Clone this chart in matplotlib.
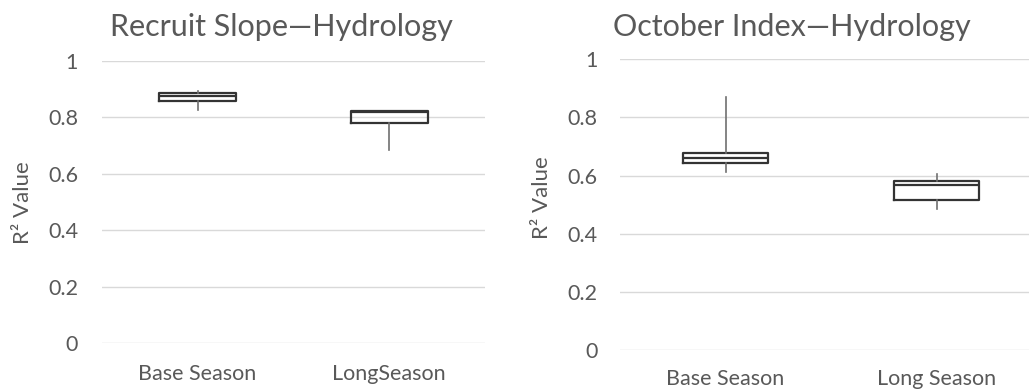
import matplotlib
matplotlib.use("Agg")
import matplotlib.pyplot as plt

plt.rcParams['font.family'] = ['Lato', 'DejaVu Sans']

# ===== data =====
titles = ["Recruit Slope\u2014Hydrology", "October Index\u2014Hydrology"]
cats_left = ["Base Season", "LongSeason"]
cats_right = ["Base Season", "Long Season"]

# left panel: Recruit Slope
rs_q1 = [0.859, 0.781]
rs_med = [0.877, 0.819]
rs_q3 = [0.886, 0.824]
rs_lo = [0.826, 0.685]
rs_hi = [0.895, 0.824]

# right panel: October Index
oi_q1 = [0.644, 0.516]
oi_med = [0.659, 0.568]
oi_q3 = [0.679, 0.581]
oi_lo = [0.611, 0.485]
oi_hi = [0.871, 0.604]

yticks = [0, 0.2, 0.4, 0.6, 0.8, 1.0]
ytick_labels = ["0", "0.2", "0.4", "0.6", "0.8", "1"]

GREY = "#595959"
GRID = "#d9d9d9"

W, H = 1029, 392
fig = plt.figure(figsize=(W / 100, H / 100), dpi=100)


def panel(rect, q1, med, q3, lo, hi, cats, title, title_x, pad_y, pad_x, ylab_xy):
    ax = fig.add_axes(rect)
    stats = []
    for i in range(len(cats)):
        stats.append(dict(q1=q1[i], med=med[i], q3=q3[i],
                          whislo=lo[i], whishi=hi[i], fliers=[], label=cats[i]))
    ax.bxp(stats, positions=[1, 2], widths=0.4, showcaps=False, showfliers=False,
           boxprops=dict(color="#333333", linewidth=1.6),
           medianprops=dict(color="#333333", linewidth=1.6),
           whiskerprops=dict(color="#707070", linewidth=1.2))
    ax.set_xlim(0.5, 2.5)
    ax.set_ylim(0, 1.0)
    ax.set_yticks(yticks)
    ax.set_yticklabels(ytick_labels)
    ax.grid(axis='y', color=GRID, linewidth=1.0)
    ax.set_axisbelow(True)
    for s in ax.spines.values():
        s.set_visible(False)
    ax.tick_params(axis='both', length=0, labelsize=15.5, colors=GREY)
    ax.tick_params(axis='y', pad=pad_y)
    ax.tick_params(axis='x', pad=pad_x)
    ax.set_ylabel("R\u00b2 Value", fontsize=16, color=GREY)
    ax.yaxis.set_label_coords(*ylab_xy)
    fig.text(title_x, 1 - 27 / H, title, fontsize=22, color=GREY,
             ha='center', va='center')
    return ax


panel([101.7 / W, 1 - 343.3 / H, 383.3 / W, 282.3 / H],
      rs_q1, rs_med, rs_q3, rs_lo, rs_hi, cats_left, titles[0], 281 / W, 17, 15,
      (-0.179, 0.497))
panel([620 / W, 1 - 350 / H, 422 / W, 290.7 / H],
      oi_q1, oi_med, oi_q3, oi_lo, oi_hi, cats_right, titles[1], 792 / W, 16, 14,
      (-0.161, 0.523))

fig.savefig("out.png", dpi=100)
